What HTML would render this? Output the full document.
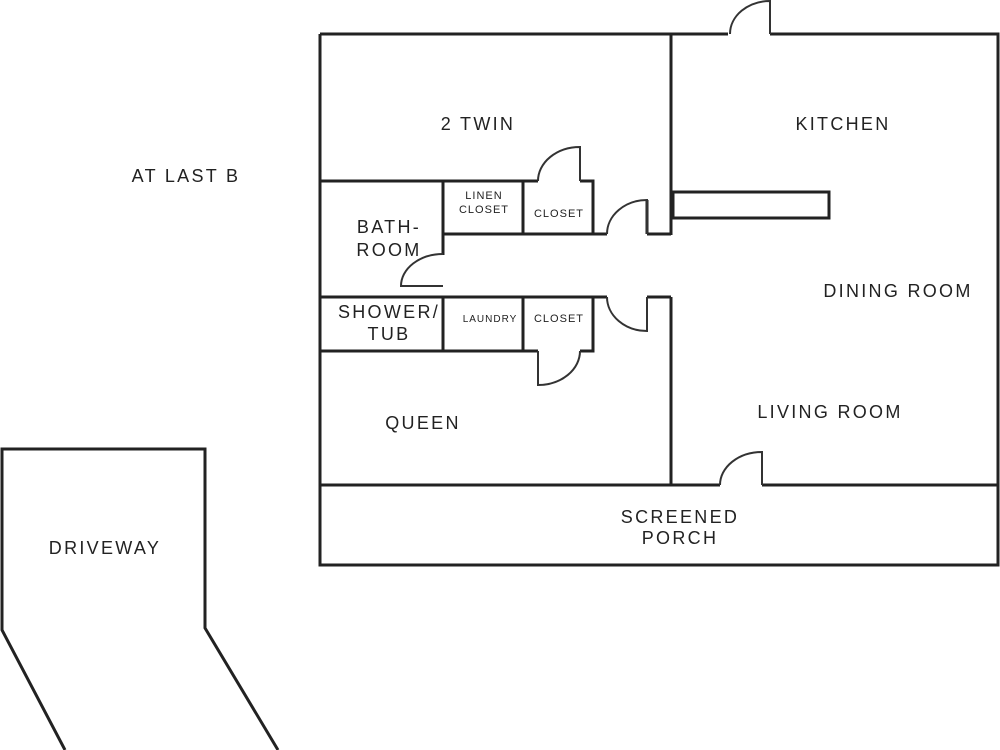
<!DOCTYPE html>
<html><head><meta charset="utf-8"><style>
html,body{margin:0;padding:0;background:#fff;}
svg{display:block;}
text{font-family:"Liberation Sans",sans-serif;fill:#222;}
</style></head><body>
<svg width="1000" height="750" viewBox="0 0 1000 750" xmlns="http://www.w3.org/2000/svg">
<g stroke="#222" stroke-width="3" fill="none">
<!-- outer -->
<path d="M320,34 H728 M770,34 H998 V565 H320 V34"/>
<!-- partition -->
<path d="M671,34 V235 M671,297 V485"/>
<path d="M320,485 H720 M762,485 H998"/>
<!-- counter -->
<rect x="673" y="192" width="156" height="26"/>
<!-- upper row -->
<path d="M320,181 H538 M580,181 H593 V234"/>
<path d="M443,234 H607 M647,234 H671 M647,234 V200"/>
<path d="M443,181 V255 M443,297 V351"/>
<path d="M523,181 V234"/>
<!-- lower row -->
<path d="M320,297 H607 M647,297 H671"/>
<path d="M320,351 H538 M580,351 H593 V297"/>
<path d="M523,297 V351"/>
<!-- driveway -->
<path d="M65,750 L2,630 V449 H205 V628 L278,750"/>
</g>
<g stroke="#333" stroke-width="2" fill="none">
<!-- doors -->
<path d="M770,34 V1 A40,33 0 0 0 730,34"/>
<path d="M580,181 V147 A42,34 0 0 0 538,181"/>
<path d="M647,234 V200 A40,34 0 0 0 607,234"/>
<path d="M443,286 H401 A42,32 0 0 1 443,254"/>
<path d="M647,297 V331 A40,34 0 0 1 607,297"/>
<path d="M538,351 V385 A42,34 0 0 0 580,351"/>
<path d="M762,485 V452 A42,33 0 0 0 720,485"/>
</g>
<g font-size="18" letter-spacing="2.3" text-anchor="middle">
<text x="478" y="130">2 TWIN</text>
<text x="843" y="130">KITCHEN</text>
<text x="186" y="182">AT LAST B</text>
<text x="389" y="233">BATH-</text>
<text x="389" y="256">ROOM</text>
<text x="389" y="318">SHOWER/</text>
<text x="389" y="340">TUB</text>
<text x="898" y="297">DINING ROOM</text>
<text x="830" y="418">LIVING ROOM</text>
<text x="423" y="429">QUEEN</text>
<text x="680" y="523">SCREENED</text>
<text x="680" y="544">PORCH</text>
<text x="105" y="554">DRIVEWAY</text>
</g>
<g font-size="11" letter-spacing="1" text-anchor="middle">
<text x="484" y="199">LINEN</text>
<text x="484" y="213">CLOSET</text>
<text x="559" y="217">CLOSET</text>
<text x="490" y="322" font-size="10">LAUNDRY</text>
<text x="559" y="322">CLOSET</text>
</g>
</svg>
</body></html>
